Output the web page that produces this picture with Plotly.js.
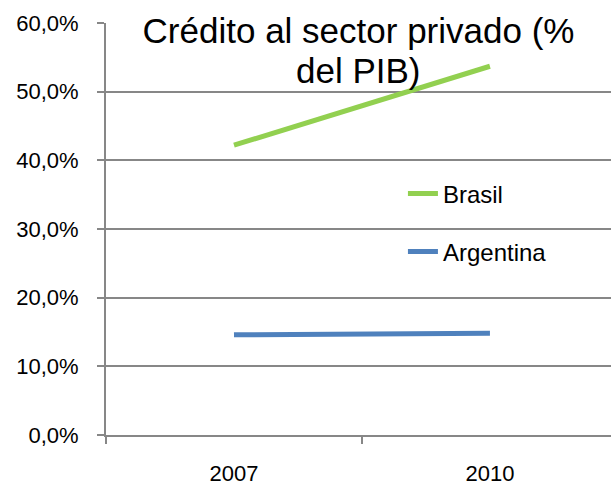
<!DOCTYPE html>
<html>
<head>
<meta charset="utf-8">
<script src="https://cdn.plot.ly/plotly-3.0.1.min.js"></script>
<style>
  html, body { margin: 0; padding: 0; background: #fff; }
  #plot { width: 611px; height: 487px; }
</style>
</head>
<body>
<div id="plot"></div>
<script>
// Datos
var years = ['2007', '2010'];
var brasil = [42.2, 53.7];
var argentina = [14.6, 14.8];

var grey = '#878787';
var fontFamily = 'Liberation Sans, Arial, sans-serif';

var trace1 = {
    x: years,
    y: brasil,
    type: 'scatter',
    mode: 'lines',
    name: 'Brasil',
    legendgroup: 'b',
    line: { color: '#92D050', width: 5 }
};

var trace2 = {
    x: years,
    y: argentina,
    type: 'scatter',
    mode: 'lines',
    name: 'Argentina',
    legendgroup: 'a',
    line: { color: '#4F81BD', width: 5 }
};

var layout = {
    width: 611,
    height: 487,
    margin: { l: 106, r: 0, t: 23, b: 52 },
    paper_bgcolor: '#fff',
    plot_bgcolor: '#fff',
    separators: ',.',
    font: { family: fontFamily, color: '#000' },
    title: {
        text: 'Crédito al sector privado (%',
        font: { size: 35, color: '#000' },
        x: 0.5,
        xref: 'paper',
        xanchor: 'center',
        yref: 'container',
        y: 1 - 31 / 487,
        yanchor: 'middle'
    },
    annotations: [{
        text: 'del PIB)',
        xref: 'paper',
        yref: 'paper',
        x: 0.5,
        y: 0.885,
        xanchor: 'center',
        yanchor: 'middle',
        showarrow: false,
        font: { size: 35, color: '#000' }
    }],
    xaxis: {
        type: 'category',
        range: [-0.5, 1.473],
        tickson: 'boundaries',
        ticks: 'outside',
        ticklen: 7,
        tickwidth: 2,
        tickcolor: grey,
        showline: true,
        linecolor: grey,
        linewidth: 2,
        showgrid: false,
        zeroline: false,
        tickfont: { size: 22, color: '#000' },
        ticklabelstandoff: 18
    },
    yaxis: {
        range: [0, 60],
        dtick: 10,
        tickformat: '.1f',
        ticksuffix: '%',
        ticks: 'outside',
        ticklen: 7,
        tickwidth: 2,
        tickcolor: grey,
        showline: true,
        linecolor: grey,
        linewidth: 2,
        showgrid: true,
        gridcolor: grey,
        gridwidth: 2,
        zeroline: false,
        tickfont: { size: 22, color: '#000' },
        ticklabelstandoff: 14
    },
    showlegend: true,
    legend: {
        x: 0.588,
        xanchor: 'left',
        y: 0.64,
        yanchor: 'top',
        bgcolor: 'rgba(0,0,0,0)',
        traceorder: 'grouped',
        tracegroupgap: 24,
        font: { size: 24, color: '#000' }
    }
};

Plotly.newPlot('plot', [trace1, trace2], layout, { displayModeBar: false });
</script>
</body>
</html>
